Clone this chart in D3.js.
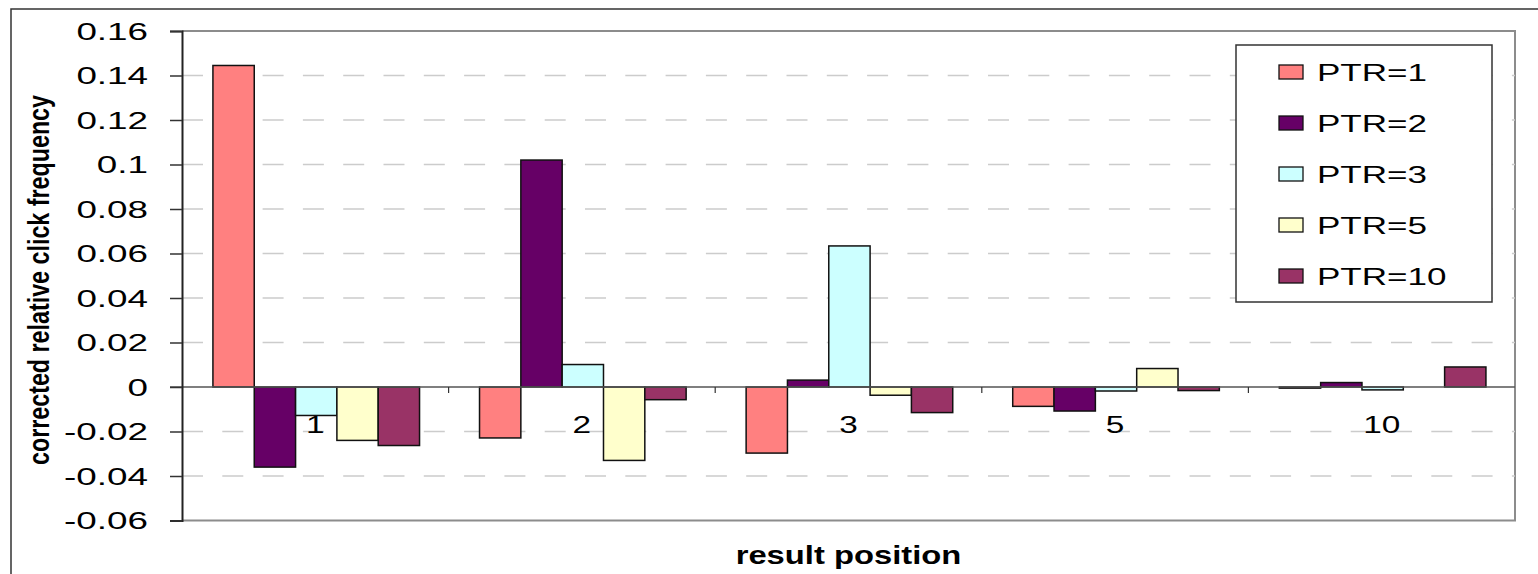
<!DOCTYPE html>
<html>
<head>
<meta charset="utf-8">
<script src="https://cdn.jsdelivr.net/npm/d3@7"></script>
<style>
  html, body { margin: 0; padding: 0; background: #fff; }
  svg { display: block; font-family: "Liberation Sans", Arial, sans-serif; }
</style>
</head>
<body>
<svg id="chart" width="1538" height="574"></svg>
<script>
// Result positions on the x axis
const positions = ["1", "2", "3", "5", "10"];
// Series: PTR values
const seriesNames = ["PTR=1", "PTR=2", "PTR=3", "PTR=5", "PTR=10"];
const seriesColors = ["#FF8080", "#660066", "#CCFFFF", "#FFFFCC", "#993366"];
// Corrected relative click frequency per series, one value per result position
const ptr1  = [0.1445, -0.0229, -0.0297, -0.0087, -0.0005];
const ptr2  = [-0.0360, 0.1020, 0.0031, -0.0108, 0.0020];
const ptr3  = [-0.0128, 0.0101, 0.0634, -0.0018, -0.0013];
const ptr5  = [-0.0240, -0.0330, -0.0037, 0.0083, 0.0000];
const ptr10 = [-0.0263, -0.0057, -0.0115, -0.0016, 0.0090];
const seriesValues = [ptr1, ptr2, ptr3, ptr5, ptr10];
// Y axis ticks and their printed labels
const yTickValues = [0.16, 0.14, 0.12, 0.10, 0.08, 0.06, 0.04, 0.02, 0, -0.02, -0.04, -0.06];
const yTickLabels = ["0.16", "0.14", "0.12", "0.1", "0.08", "0.06", "0.04", "0.02", "0", "-0.02", "-0.04", "-0.06"];

const svg = d3.select("#chart");

// Plot area
const plot = { left: 182, right: 1515, top: 31, bottom: 520.5 };

const y = d3.scaleLinear().domain([-0.06, 0.16]).range([plot.bottom, plot.top]);
const x0 = d3.scaleBand().domain(positions).range([plot.left, plot.right]).padding(0);
const bw = x0.bandwidth();
const x1 = d3.scaleBand().domain(seriesNames).range([bw * 0.116, bw * 0.891]).padding(0);

// Stretch text horizontally along its reading direction
function widen(sel, factor) {
  sel.each(function () {
    const len = this.getComputedTextLength();
    d3.select(this).attr("textLength", len * factor).attr("lengthAdjust", "spacingAndGlyphs");
  });
}

// Outer chart frame
svg.append("path")
  .attr("d", `M11,${574 + 5} L11,9 L${1538 + 5},9`)
  .attr("fill", "none").attr("stroke", "#333").attr("stroke-width", 1.5);

// Plot area border (top, right, bottom)
svg.append("path")
  .attr("d", `M${plot.left},${plot.top} L${plot.right},${plot.top} L${plot.right},${plot.bottom} L${plot.left},${plot.bottom}`)
  .attr("fill", "none").attr("stroke", "#8c8c8c").attr("stroke-width", 2);

// Dashed gridlines
svg.append("g")
  .selectAll("line")
  .data(yTickValues.filter(v => v !== 0 && v !== 0.16 && v !== -0.06))
  .join("line")
  .attr("x1", plot.left).attr("x2", plot.right)
  .attr("y1", d => y(d)).attr("y2", d => y(d))
  .attr("stroke", "#cccccc").attr("stroke-width", 1.5)
  .attr("stroke-dasharray", "21,19.3");

// Bars
const groups = svg.append("g")
  .selectAll("g")
  .data(positions)
  .join("g")
  .attr("transform", d => `translate(${x0(d)},0)`);

groups.selectAll("rect")
  .data((d, i) => seriesNames.map((s, k) => ({ series: s, k, value: seriesValues[k][i] })))
  .join("rect")
  .attr("x", d => x1(d.series))
  .attr("width", x1.bandwidth())
  .attr("y", d => y(Math.max(0, d.value)))
  .attr("height", d => Math.abs(y(d.value) - y(0)))
  .attr("fill", d => seriesColors[d.k])
  .attr("stroke", "#111")
  .attr("stroke-width", 1.5);

// Category axis along zero
const xAxis = svg.append("g").attr("transform", `translate(0,${y(0)})`);
xAxis.append("line")
  .attr("x1", plot.left - 12).attr("x2", plot.right)
  .attr("stroke", "#555").attr("stroke-width", 1.5);
xAxis.selectAll("line.tick")
  .data(positions.slice(1))
  .join("line")
  .attr("class", "tick")
  .attr("x1", d => x0(d)).attr("x2", d => x0(d))
  .attr("y1", 0).attr("y2", 6)
  .attr("stroke", "#333").attr("stroke-width", 1.2);
xAxis.selectAll("text")
  .data(positions)
  .join("text")
  .attr("x", d => x0(d) + bw / 2)
  .attr("y", 46)
  .attr("text-anchor", "middle")
  .attr("font-size", 23)
  .attr("fill", "#000")
  .text(d => d)
  .call(widen, 1.45);

// Value axis
const yAxis = d3.axisLeft(y)
  .tickValues(yTickValues)
  .tickFormat((d, i) => yTickLabels[i])
  .tickSize(12)
  .tickPadding(22);
const yg = svg.append("g").attr("transform", `translate(${plot.left},0)`).call(yAxis);
yg.select(".domain").attr("stroke", "#222").attr("stroke-width", 2);
yg.selectAll(".tick line").attr("stroke", "#333").attr("stroke-width", 1.5);
yg.selectAll(".tick text")
  .attr("font-size", 23)
  .attr("font-family", "'Liberation Sans', Arial, sans-serif")
  .attr("fill", "#000")
  .attr("dy", "0.36em")
  .call(widen, 1.6);

// Axis titles
svg.append("text")
  .attr("transform", `translate(49,280) rotate(-90)`)
  .attr("text-anchor", "middle")
  .attr("font-size", 29)
  .attr("font-weight", "bold")
  .attr("fill", "#000")
  .attr("textLength", 370)
  .attr("lengthAdjust", "spacingAndGlyphs")
  .text("corrected relative click frequency");

svg.append("text")
  .attr("x", (plot.left + plot.right) / 2)
  .attr("y", 564)
  .attr("text-anchor", "middle")
  .attr("font-size", 26)
  .attr("font-weight", "bold")
  .attr("fill", "#000")
  .text("result position")
  .call(widen, 1.26);

// Legend
const legend = svg.append("g");
legend.append("rect")
  .attr("x", 1236).attr("y", 45)
  .attr("width", 256).attr("height", 257)
  .attr("fill", "#fff").attr("stroke", "#333").attr("stroke-width", 1.5);
const rowY = d3.scalePoint().domain(seriesNames).range([72, 276]);
const items = legend.selectAll("g")
  .data(seriesNames)
  .join("g")
  .attr("transform", d => `translate(0,${rowY(d)})`);
items.append("rect")
  .attr("x", 1279).attr("y", -7)
  .attr("width", 24).attr("height", 14)
  .attr("fill", (d, i) => seriesColors[i])
  .attr("stroke", "#111").attr("stroke-width", 1.3);
items.append("text")
  .attr("x", 1317).attr("y", 8.5)
  .attr("font-size", 24)
  .attr("fill", "#000")
  .text(d => d)
  .call(widen, 1.46);
</script>
</body>
</html>
